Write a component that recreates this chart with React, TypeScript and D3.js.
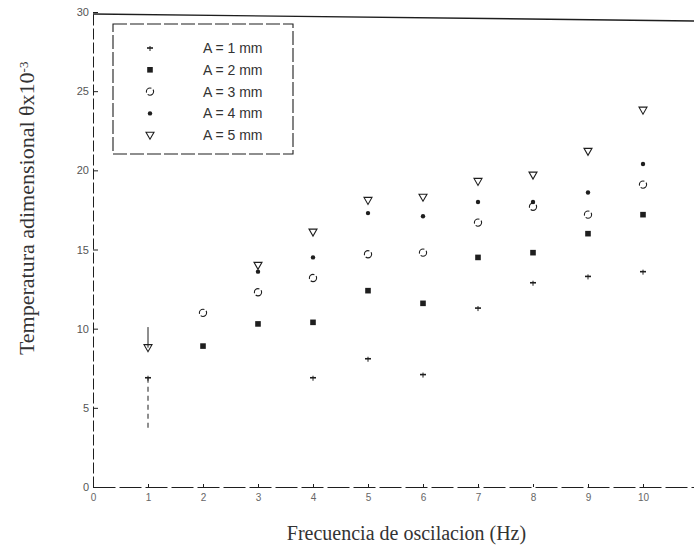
import React, { useEffect, useRef } from "react";
import * as d3 from "d3";

// frequencies (Hz)
const freqs = [1, 2, 3, 4, 5, 6, 7, 8, 9, 10];

// dimensionless temperature x10^-3, one array per amplitude
const a1 = [6.9, null, null, 6.9, 8.1, 7.1, 11.3, 12.9, 13.3, 13.6];
const a2 = [null, 8.9, 10.3, 10.4, 12.4, 11.6, 14.5, 14.8, 16.0, 17.2];
const a3 = [null, 11.0, 12.3, 13.2, 14.7, 14.8, 16.7, 17.7, 17.2, 19.1];
const a4 = [null, null, 13.6, 14.5, 17.3, 17.1, 18.0, 18.0, 18.6, 20.4];
const a5 = [8.8, null, 14.0, 16.1, 18.1, 18.3, 19.3, 19.7, 21.2, 23.8];

const seriesNames = ["A = 1 mm", "A = 2 mm", "A = 3 mm", "A = 4 mm", "A = 5 mm"];
const markers = ["plus", "square", "circle", "dot", "triangle"];

// vertical bars seen at 1 Hz: [x, from, to, dashed]
const bars: [number, number, number, boolean][] = [
  [1, 8.8, 10.1, false],
  [1, 6.9, 3.6, true],
];

const xTicks = [0, 1, 2, 3, 4, 5, 6, 7, 8, 9, 10];
const yTicks = [0, 5, 10, 15, 20, 25, 30];

const ink = "#1e1e1e";

function drawMarker(g: any, kind: string, cx: number, cy: number) {
  if (kind === "plus") {
    g.append("line").attr("x1", cx - 3).attr("x2", cx + 3).attr("y1", cy).attr("y2", cy)
      .attr("stroke", ink).attr("stroke-width", 1.6);
    g.append("line").attr("x1", cx).attr("x2", cx).attr("y1", cy - 2).attr("y2", cy + 3)
      .attr("stroke", ink).attr("stroke-width", 1);
  } else if (kind === "square") {
    g.append("rect").attr("x", cx - 2.8).attr("y", cy - 2.8).attr("width", 5.6).attr("height", 5.6)
      .attr("fill", ink);
  } else if (kind === "circle") {
    g.append("circle").attr("cx", cx).attr("cy", cy).attr("r", 3.6)
      .attr("fill", "none").attr("stroke", ink).attr("stroke-width", 1.1)
      .attr("stroke-dasharray", "8,2");
  } else if (kind === "dot") {
    g.append("circle").attr("cx", cx).attr("cy", cy).attr("r", 2.2).attr("fill", ink);
  } else {
    const p = d3.path();
    p.moveTo(cx - 4, cy - 3);
    p.lineTo(cx + 4, cy - 3);
    p.lineTo(cx, cy + 4);
    p.closePath();
    g.append("path").attr("d", p.toString()).attr("fill", "none")
      .attr("stroke", ink).attr("stroke-width", 1.1);
  }
}

const Chart = () => {
  const svgRef = useRef<SVGSVGElement>(null);

  useEffect(() => {
    const w = 694;
    const h = 551;
    const svg = d3.select(svgRef.current)
      .attr("width", w)
      .attr("height", h)
      .style("background", "#fff");
    svg.selectAll("*").remove();

    const x = d3.scaleLinear().domain([0, 11]).range([93, 698]);
    const y = d3.scaleLinear().domain([0, 30]).range([487, 12]);

    // top frame line (slightly skewed, like the scan)
    svg.append("line")
      .attr("x1", x(0)).attr("y1", y(30) + 2)
      .attr("x2", x(11)).attr("y2", y(30) + 9)
      .attr("stroke", ink).attr("stroke-width", 1.4);

    // axes
    const yAxis = d3.axisLeft(y).tickValues(yTicks).tickSizeInner(-5).tickSizeOuter(0).tickPadding(4);
    const gy = svg.append("g").attr("transform", `translate(${x(0)},0)`).call(yAxis);
    gy.select(".domain").attr("stroke", ink).attr("stroke-dasharray", "11,3");
    gy.selectAll(".tick line").attr("stroke", ink);
    gy.selectAll(".tick text").attr("fill", "#555").style("font-size", "11px")
      .style("font-family", "Liberation Sans, Arial, sans-serif");

    const xAxis = d3.axisBottom(x).tickValues(xTicks).tickSizeInner(-3).tickSizeOuter(0).tickPadding(7);
    const gx = svg.append("g").attr("transform", `translate(0,${y(0)})`).call(xAxis);
    gx.select(".domain").attr("stroke", ink).attr("stroke-dasharray", "22,4");
    gx.selectAll(".tick line").attr("stroke", ink);
    gx.selectAll(".tick text").attr("fill", "#666").style("font-size", "10px")
      .style("font-family", "Liberation Sans, Arial, sans-serif");

    // error bars at 1 Hz
    bars.forEach(([bx, from, to, dashed]) => {
      svg.append("line")
        .attr("x1", x(bx)).attr("x2", x(bx))
        .attr("y1", y(from)).attr("y2", y(to))
        .attr("stroke", ink).attr("stroke-width", 1)
        .attr("stroke-dasharray", dashed ? "5,4" : null);
    });

    // points
    const all = [a1, a2, a3, a4, a5];
    const gp = svg.append("g");
    all.forEach((vals, i) => {
      vals.forEach((v, j) => {
        if (v === null) return;
        drawMarker(gp, markers[i], x(freqs[j]), y(v));
      });
    });

    // legend
    const lg = svg.append("g");
    lg.append("rect")
      .attr("x", 113).attr("y", 24).attr("width", 180).attr("height", 130)
      .attr("fill", "#fff").attr("stroke", ink).attr("stroke-width", 1.1)
      .attr("stroke-dasharray", "14,3");
    seriesNames.forEach((name, i) => {
      const ry = 48 + i * 21.8;
      drawMarker(lg, markers[i], 150, ry);
      lg.append("text")
        .attr("x", 203).attr("y", ry + 5)
        .attr("fill", "#333")
        .style("font-size", "14px")
        .style("font-family", "Liberation Sans, Arial, sans-serif")
        .text(name);
    });

    // axis titles
    const yt = svg.append("text")
      .attr("transform", `translate(34,${y(17.6)}) rotate(-90)`)
      .attr("text-anchor", "middle")
      .attr("fill", "#333")
      .style("font-size", "22px")
      .style("font-family", "Liberation Serif, Times New Roman, serif");
    yt.append("tspan").text("Temperatura adimensional θx10");
    yt.append("tspan").attr("dy", "-0.5em").style("font-size", "13px").text("-3");

    svg.append("text")
      .attr("x", x(5.7)).attr("y", 540)
      .attr("text-anchor", "middle")
      .attr("fill", "#333")
      .style("font-size", "20px")
      .style("font-family", "Liberation Serif, Times New Roman, serif")
      .text("Frecuencia de oscilacion (Hz)");
  }, []);

  return <svg ref={svgRef} style={{ position: "absolute", left: 0, top: 0 }}></svg>;
};

export default function App() {
  return <Chart />;
}
